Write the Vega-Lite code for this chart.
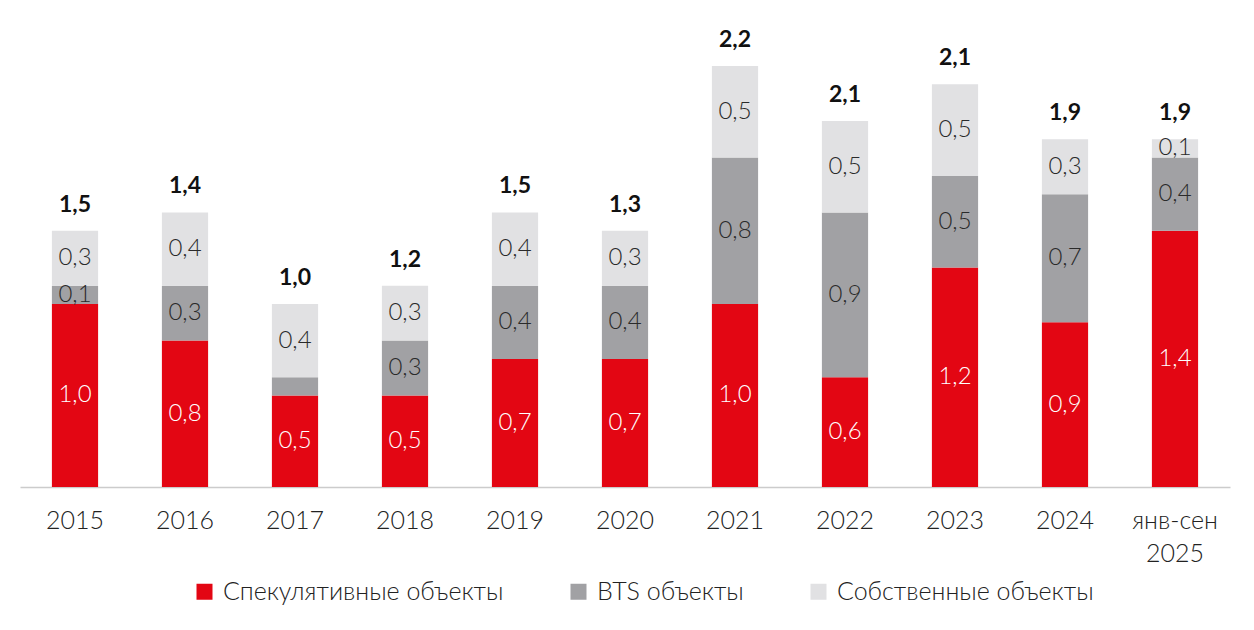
{
  "$schema": "https://vega.github.io/schema/vega-lite/v6.json",
  "width": 1210,
  "height": 487,
  "autosize": {"type": "none"},
  "padding": {"left": 20, "top": 0, "right": 24, "bottom": 143},
  "config": {
    "view": {"stroke": null},
    "font": "Lato",
    "locale": {
      "number": {"decimal": ",", "thousands": " ", "grouping": [3], "currency": ["", ""]}
    },
    "axis": {"labelFont": "Lato", "labelColor": "#222222"},
    "legend": {"labelFont": "Lato", "labelColor": "#222222"}
  },
  "datasets": {
    "totals": [
      {"year": "2015", "total": 1.5},
      {"year": "2016", "total": 1.4},
      {"year": "2017", "total": 1.0},
      {"year": "2018", "total": 1.2},
      {"year": "2019", "total": 1.5},
      {"year": "2020", "total": 1.3},
      {"year": "2021", "total": 2.2},
      {"year": "2022", "total": 2.1},
      {"year": "2023", "total": 2.1},
      {"year": "2024", "total": 1.9},
      {"year": "янв-сен 2025", "total": 1.9}
    ]
  },
  "data": {
    "values": [
      {"year": "2015", "type": "Спекулятивные объекты", "k": 1, "value": 1.0},
      {"year": "2015", "type": "BTS объекты", "k": 2, "value": 0.1},
      {"year": "2015", "type": "Собственные объекты", "k": 3, "value": 0.3},
      {"year": "2016", "type": "Спекулятивные объекты", "k": 1, "value": 0.8},
      {"year": "2016", "type": "BTS объекты", "k": 2, "value": 0.3},
      {"year": "2016", "type": "Собственные объекты", "k": 3, "value": 0.4},
      {"year": "2017", "type": "Спекулятивные объекты", "k": 1, "value": 0.5},
      {"year": "2017", "type": "BTS объекты", "k": 2, "value": 0.1, "hide": true},
      {"year": "2017", "type": "Собственные объекты", "k": 3, "value": 0.4},
      {"year": "2018", "type": "Спекулятивные объекты", "k": 1, "value": 0.5},
      {"year": "2018", "type": "BTS объекты", "k": 2, "value": 0.3},
      {"year": "2018", "type": "Собственные объекты", "k": 3, "value": 0.3},
      {"year": "2019", "type": "Спекулятивные объекты", "k": 1, "value": 0.7},
      {"year": "2019", "type": "BTS объекты", "k": 2, "value": 0.4},
      {"year": "2019", "type": "Собственные объекты", "k": 3, "value": 0.4},
      {"year": "2020", "type": "Спекулятивные объекты", "k": 1, "value": 0.7},
      {"year": "2020", "type": "BTS объекты", "k": 2, "value": 0.4},
      {"year": "2020", "type": "Собственные объекты", "k": 3, "value": 0.3},
      {"year": "2021", "type": "Спекулятивные объекты", "k": 1, "value": 1.0},
      {"year": "2021", "type": "BTS объекты", "k": 2, "value": 0.8},
      {"year": "2021", "type": "Собственные объекты", "k": 3, "value": 0.5},
      {"year": "2022", "type": "Спекулятивные объекты", "k": 1, "value": 0.6},
      {"year": "2022", "type": "BTS объекты", "k": 2, "value": 0.9},
      {"year": "2022", "type": "Собственные объекты", "k": 3, "value": 0.5},
      {"year": "2023", "type": "Спекулятивные объекты", "k": 1, "value": 1.2},
      {"year": "2023", "type": "BTS объекты", "k": 2, "value": 0.5},
      {"year": "2023", "type": "Собственные объекты", "k": 3, "value": 0.5},
      {"year": "2024", "type": "Спекулятивные объекты", "k": 1, "value": 0.9},
      {"year": "2024", "type": "BTS объекты", "k": 2, "value": 0.7},
      {"year": "2024", "type": "Собственные объекты", "k": 3, "value": 0.3},
      {"year": "янв-сен 2025", "type": "Спекулятивные объекты", "k": 1, "value": 1.4},
      {"year": "янв-сен 2025", "type": "BTS объекты", "k": 2, "value": 0.4},
      {"year": "янв-сен 2025", "type": "Собственные объекты", "k": 3, "value": 0.1}
    ]
  },
  "encoding": {
    "x": {
      "field": "year",
      "type": "nominal",
      "sort": null,
      "scale": {"paddingInner": 0.58, "paddingOuter": 0.29},
      "axis": {
        "title": null,
        "labelAngle": 0,
        "labelFontSize": 25,
        "labelFontWeight": 300,
        "labelPadding": 21,
        "labelLineHeight": 33,
        "ticks": false,
        "domainColor": "#cccccc",
        "domainWidth": 1.5,
        "labelExpr": "datum.value == 'янв-сен 2025' ? ['янв-сен', '2025'] : datum.value"
      }
    }
  },
  "layer": [
    {
      "mark": {"type": "bar"},
      "encoding": {
        "y": {
          "field": "value",
          "type": "quantitative",
          "stack": "zero",
          "scale": {"domain": [0, 2.661], "nice": false},
          "axis": null
        },
        "order": {"field": "k"},
        "color": {
          "field": "type",
          "type": "nominal",
          "scale": {
            "domain": ["Спекулятивные объекты", "BTS объекты", "Собственные объекты"],
            "range": ["#e30613", "#a1a1a4", "#e1e1e3"]
          },
          "legend": {
            "title": null,
            "orient": "none",
            "legendX": 172,
            "legendY": 579,
            "direction": "horizontal",
            "symbolType": "square",
            "symbolSize": 256,
            "symbolStrokeWidth": 0,
            "labelFontSize": 25,
            "labelFontWeight": 300,
            "labelLimit": 400,
            "labelOffset": 6,
            "columnPadding": 62
          }
        }
      }
    },
    {
      "transform": [
        {"stack": "value", "groupby": ["year"], "sort": [{"field": "k"}], "as": ["y0", "y1"]},
        {"calculate": "(datum.y0 + datum.y1) / 2", "as": "mid"},
        {"filter": "!datum.hide"}
      ],
      "mark": {"type": "text", "fontSize": 24, "fontWeight": 300, "baseline": "middle"},
      "encoding": {
        "y": {"field": "mid", "type": "quantitative"},
        "text": {"field": "value", "type": "quantitative", "format": ".1f"},
        "color": {
          "condition": {"test": "datum.k == 1", "value": "#ffffff"},
          "value": "#2a2a2a"
        }
      }
    },
    {
      "transform": [
        {"aggregate": [{"op": "sum", "field": "value", "as": "h"}], "groupby": ["year"]},
        {"lookup": "year", "from": {"data": {"name": "totals"}, "key": "year", "fields": ["total"]}}
      ],
      "mark": {"type": "text", "fontSize": 23, "fontWeight": "bold", "baseline": "alphabetic", "dy": -19, "color": "#111111"},
      "encoding": {
        "y": {"field": "h", "type": "quantitative"},
        "text": {"field": "total", "type": "quantitative", "format": ".1f"}
      }
    }
  ]
}
